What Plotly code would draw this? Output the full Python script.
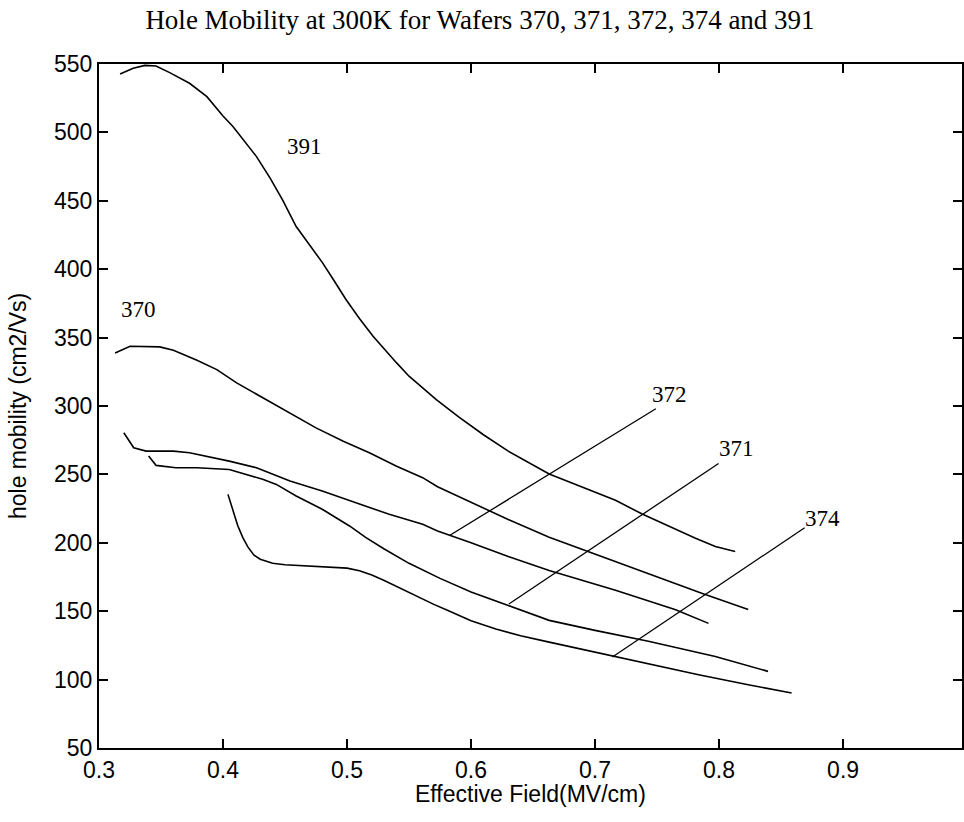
import plotly.graph_objects as go

# ---- data (Effective field MV/cm, hole mobility cm2/Vs) ----
x_391 = [0.317, 0.3276, 0.337, 0.346, 0.357, 0.373, 0.387, 0.400, 0.408, 0.416, 0.427, 0.438,
         0.448, 0.459, 0.470, 0.480, 0.490, 0.499, 0.510, 0.521, 0.540, 0.550, 0.572, 0.59, 0.61, 0.63,
         0.663, 0.690, 0.7165, 0.738, 0.757, 0.781, 0.797, 0.813]
y_391 = [542.7, 546.9, 549.0, 548.5, 543.7, 535.9, 526.1, 512.0, 504.3, 495.0, 482.3, 466.6,
         450.7, 431.2, 417.0, 405.0, 391.0, 378.0, 364.0, 351.0, 331.5, 321.8, 304.7, 292.0, 279.0, 267.0,
         250.3, 240.7, 231.1, 221.0, 213.0, 203.3, 197.3, 193.7]

x_370 = [0.313, 0.325, 0.349, 0.360, 0.379, 0.395, 0.411, 0.432, 0.454, 0.475, 0.497, 0.518,
         0.540, 0.561, 0.573, 0.60, 0.63, 0.663, 0.695, 0.743, 0.786, 0.8235]
y_370 = [338.8, 343.7, 343.2, 340.7, 333.4, 326.6, 316.9, 305.9, 295.0, 284.0, 274.3, 265.8,
         256.0, 247.6, 241.0, 229.7, 217.0, 204.0, 193.3, 177.6, 163.1, 151.2]

x_372 = [0.320, 0.328, 0.338, 0.360, 0.373, 0.405, 0.427, 0.454, 0.480, 0.507, 0.534, 0.561,
         0.573, 0.60, 0.63, 0.663, 0.7165, 0.765, 0.7915]
y_372 = [280.4, 269.5, 267.0, 267.0, 265.8, 259.7, 254.9, 245.1, 237.9, 229.4, 220.8, 213.5,
         208.6, 200.0, 190.0, 179.8, 165.3, 151.0, 141.1]

x_371 = [0.340, 0.346, 0.362, 0.379, 0.405, 0.432, 0.443, 0.459, 0.480, 0.502, 0.515, 0.53,
         0.55, 0.575, 0.60, 0.63, 0.663, 0.70, 0.743, 0.797, 0.8395]
y_371 = [263.4, 256.6, 254.9, 254.9, 253.6, 246.4, 242.7, 234.2, 224.5, 212.3, 204.0, 195.5,
         185.0, 174.0, 164.0, 154.0, 143.3, 136.0, 128.0, 116.9, 106.0]

x_374 = [0.404, 0.406, 0.408, 0.410, 0.412, 0.416, 0.42, 0.425, 0.43, 0.44, 0.45, 0.46, 0.47,
         0.48, 0.49, 0.50, 0.51, 0.52, 0.53, 0.54, 0.55, 0.56, 0.57, 0.58, 0.59, 0.60, 0.62,
         0.64, 0.663, 0.69, 0.7165, 0.75, 0.7835, 0.8235, 0.8585]
y_374 = [235.4, 229.0, 224.5, 218.0, 212.3, 203.8, 197.0, 191.0, 188.0, 185.0, 184.0, 183.5, 183.5,
         183.0, 182.5, 181.5, 179.5, 176.5, 172.5, 168.0, 163.5, 159.0, 155.0, 151.0, 147.0, 143.0, 137.0,
         132.0, 127.4, 122.0, 116.7, 110.0, 103.5, 96.3, 90.2]

# label leader lines (start on curve, end at label)
leader_372_x = [0.583, 0.749]
leader_372_y = [205.5, 298.0]
leader_371_x = [0.6305, 0.7996]
leader_371_y = [155.3, 258.0]
leader_374_x = [0.714, 0.869]
leader_374_y = [116.5, 211.0]

labels = ["391", "370", "372", "371", "374"]
label_x = [0.466, 0.3316, 0.760, 0.8137, 0.8837]
label_y = [489.6, 370.4, 308.4, 269.3, 217.7]

x_ticks = [0.3, 0.4, 0.5, 0.6, 0.7, 0.8, 0.9]
x_ticktext = ["0.3", "0.4", "0.5", "0.6", "0.7", "0.8", "0.9"]
y_ticks = [50, 100, 150, 200, 250, 300, 350, 400, 450, 500, 550]

fig = go.Figure()
for xs, ys in [(x_391, y_391), (x_370, y_370), (x_372, y_372), (x_371, y_371), (x_374, y_374)]:
    fig.add_trace(go.Scatter(x=xs, y=ys, mode="lines", line=dict(color="black", width=1.6),
                             showlegend=False, hoverinfo="skip"))
for xs, ys in [(leader_372_x, leader_372_y), (leader_371_x, leader_371_y), (leader_374_x, leader_374_y)]:
    fig.add_trace(go.Scatter(x=xs, y=ys, mode="lines", line=dict(color="black", width=1.3),
                             showlegend=False, hoverinfo="skip"))

for t, lx, ly in zip(labels, label_x, label_y):
    fig.add_annotation(x=lx, y=ly, text=t, showarrow=False, xanchor="center", yanchor="middle",
                       font=dict(family="Liberation Serif", size=23, color="black"))

W, H = 964, 822
ML, MT, MB = 99, 64, 74
plot_w = W - ML
x_max = 0.3 + plot_w / 1243.0

tickfont = dict(family="Liberation Sans", size=23, color="black")
fig.update_layout(
    width=W, height=H,
    margin=dict(l=ML, r=0, t=MT, b=MB, pad=0),
    paper_bgcolor="white", plot_bgcolor="white",
    title=dict(text="Hole Mobility at 300K for Wafers 370, 371, 372, 374 and 391",
               font=dict(family="Liberation Serif", size=27, color="black"),
               x=480 / W, xref="container", xanchor="center",
               y=1 - 20 / H, yref="container", yanchor="middle"),
    xaxis=dict(range=[0.3, x_max], tickvals=x_ticks, ticktext=x_ticktext,
               ticks="inside", ticklen=9, tickwidth=1.5, tickcolor="black",
               showline=True, linecolor="black", linewidth=2, mirror="ticks",
               showgrid=False, zeroline=False, tickfont=tickfont),
    yaxis=dict(range=[50, 550], tickvals=y_ticks,
               ticks="inside", ticklen=9, tickwidth=1.5, tickcolor="black",
               showline=True, linecolor="black", linewidth=2, mirror="ticks",
               showgrid=False, zeroline=False, tickfont=tickfont),
)

# axis titles
fig.add_annotation(x=(532 - ML) / plot_w, xref="paper", y=0, yref="paper", yshift=-46,
                   text="Effective Field(MV/cm)", showarrow=False, xanchor="center", yanchor="middle",
                   font=dict(family="Liberation Sans", size=23, color="black"))
fig.add_annotation(x=0, xref="paper", xshift=-(ML - 18), y=0.5, yref="paper",
                   text="hole mobility (cm2/Vs)", textangle=-90, showarrow=False,
                   xanchor="center", yanchor="middle",
                   font=dict(family="Liberation Sans", size=23, color="black"))

fig.write_html("out.html")
